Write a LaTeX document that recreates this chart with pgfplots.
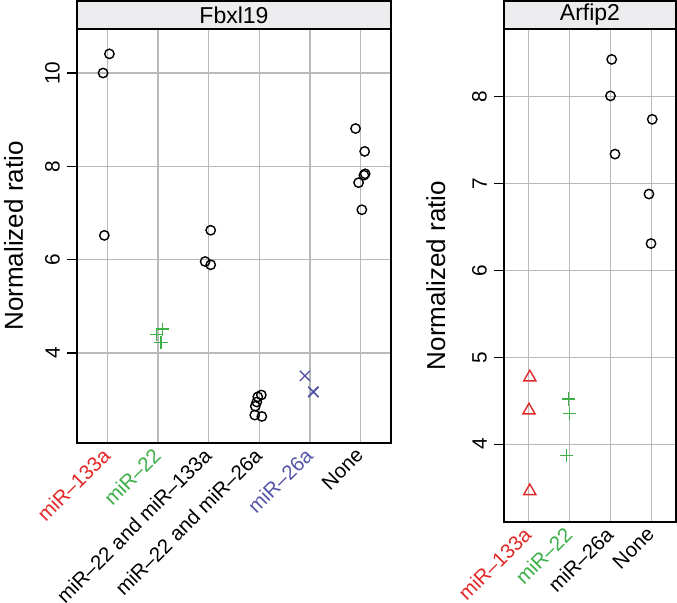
\documentclass[border=0pt]{standalone}
\usepackage{fontspec}
\setmainfont{Liberation Sans}
\usepackage{pgfplots}
\pgfplotsset{compat=1.18}
\definecolor{cred}{RGB}{226,40,40}
\definecolor{cgreen}{RGB}{60,175,70}
\definecolor{cblue}{RGB}{85,85,170}
\definecolor{cgrid}{RGB}{185,185,185}
\definecolor{cstrip}{RGB}{236,236,238}
\tikzset{xlab/.style={xshift=2pt, yshift=-2pt, rotate=45, anchor=east, inner sep=0.333em, font=\fontsize{10.2}{12}\selectfont}}
\pgfplotsset{
  panel/.style={
    scale only axis,
    anchor=south west,
    axis line style={line width=0.65pt},
    xmajorgrids, ymajorgrids,
    grid style={cgrid, line width=0.65pt},
    tick align=outside,
    ytick pos=left,
    xtick pos=bottom,
    major tick length=5pt,
    xtick style={draw=none},
    ytick style={black, line width=0.65pt},
    /pgf/number format/assume math mode=true,
    yticklabel style={rotate=90, anchor=south, font=\fontsize{10.4}{12}\selectfont},
    xticklabel style={xshift=2pt, yshift=3pt, rotate=45, anchor=east, font=\fontsize{10.2}{12}\selectfont},
    ylabel={Normalized ratio},
    ylabel style={font=\fontsize{13}{15}\selectfont, anchor=base},
    clip=false,
    xtick={1,2,3,4,5,6},
  },
  circ/.style={only marks, mark=o, mark size=2.35pt, black, mark options={line width=0.7pt}},
  plu/.style={only marks, mark=+, mark size=3.3pt, cgreen, mark options={line width=0.7pt}},
  crs/.style={only marks, mark=x, mark size=3.6pt, cblue, mark options={line width=0.7pt}},
  tri/.style={only marks, mark=triangle, mark size=3.5pt, cred, mark options={line width=0.7pt}},
}
\begin{document}
\begin{tikzpicture}
\useasboundingbox (0,0) rectangle (338.5pt,301pt);
% ---------------- Fbxl19
\begin{axis}[panel,
  at={(38.5pt,79.5pt)}, width=157pt, height=207pt,
  xmin=0.4, xmax=6.6, ymin=2.071, ymax=10.943,
  ytick={4,6,8,10},
  xticklabels={{},{},{miR--22 and miR--133a},{miR--22 and miR--26a},{},{None}},
  ylabel style={at={(axis description cs:-0.172,0.5)}},
]
\addplot[circ] coordinates {(1.04,10.41) (0.915,10.0) (0.94,6.52)};
\addplot[plu] coordinates {(2.09,4.51) (1.97,4.39) (2.06,4.22)};
\addplot[circ] coordinates {(3.04,6.63) (2.93,5.96) (3.04,5.89)};
\addplot[circ] coordinates {(4.04,3.10) (3.97,3.06) (3.95,2.95) (3.92,2.86) (3.91,2.67) (4.05,2.64)};
\addplot[crs] coordinates {(4.90,3.51) (5.065,3.17) (5.07,3.16)};
\addplot[circ] coordinates {(5.90,8.81) (6.08,8.32) (6.09,7.84) (6.065,7.81) (5.96,7.65) (6.025,7.07)};
\draw[fill=cstrip, line width=0.65pt] (rel axis cs:0,1) rectangle ([yshift=14pt]rel axis cs:1,1);
\node[font=\fontsize{11.5}{13}\selectfont] at ([yshift=7pt]rel axis cs:0.5,1) {Fbxl19};
\node[xlab, text=cred] at (axis cs:1,2.071) {miR--133a};
\node[xlab, text=cgreen] at (axis cs:2,2.071) {miR--22};
\node[xlab, text=cblue] at (axis cs:5,2.071) {miR--26a};
\end{axis}
% ---------------- Arfip2
\begin{axis}[panel,
  at={(252pt,40pt)}, width=86pt, height=246.5pt,
  xmin=0.4, xmax=4.6, ymin=3.104, ymax=8.78,
  xtick={1,2,3,4},
  ytick={4,5,6,7,8},
  xticklabels={{},{},{miR--26a},{None}},
  ylabel style={at={(axis description cs:-0.343,0.5)}},
]
\addplot[tri] coordinates {(1.03,4.77) (1.01,4.39) (1.03,3.46)};
\addplot[plu] coordinates {(1.98,4.52) (2.0,4.35) (1.93,3.87)};
\addplot[circ] coordinates {(3.03,8.43) (3.0,8.01) (3.11,7.34)};
\addplot[circ] coordinates {(4.02,7.74) (3.94,6.88) (3.99,6.31)};
\draw[fill=cstrip, line width=0.65pt] (rel axis cs:0,1) rectangle ([yshift=14pt]rel axis cs:1,1);
\node[font=\fontsize{11.5}{13}\selectfont] at ([yshift=7pt]rel axis cs:0.5,1) {Arfip2};
\node[xlab, text=cred] at (axis cs:1,3.104) {miR--133a};
\node[xlab, text=cgreen] at (axis cs:2,3.104) {miR--22};
\end{axis}
\end{tikzpicture}
\end{document}
